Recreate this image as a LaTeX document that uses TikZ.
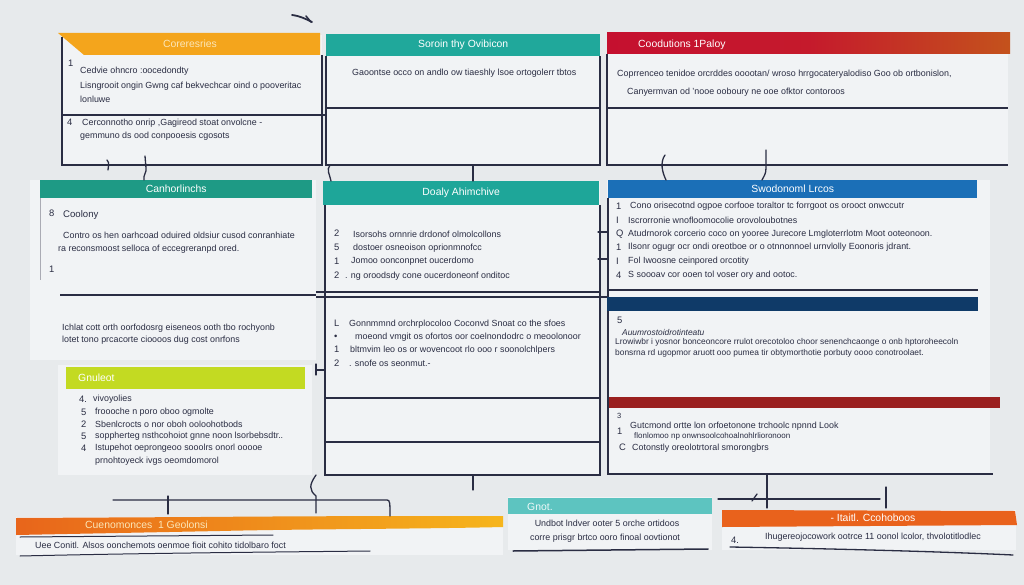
\documentclass[tikz,border=0pt]{standalone}
\usepackage{fontspec}
\setmainfont{Liberation Sans}
\definecolor{bg}{HTML}{E7EAEC}
\definecolor{panel}{HTML}{F1F3F5}
\definecolor{ink}{HTML}{2A2D43}
\definecolor{orgA}{HTML}{F4A51C}
\definecolor{tealA}{HTML}{20A89B}
\definecolor{redA}{HTML}{C5102F}
\definecolor{rustA}{HTML}{C4521C}
\definecolor{tealB}{HTML}{1E9A85}
\definecolor{tealC}{HTML}{1EA699}
\definecolor{blueA}{HTML}{1B6FB7}
\definecolor{navyA}{HTML}{0F3A68}
\definecolor{dredA}{HTML}{9A1F1F}
\definecolor{limeA}{HTML}{C3DA22}
\definecolor{orgL}{HTML}{E8651B}
\definecolor{amberR}{HTML}{F6B51C}
\definecolor{tealL}{HTML}{5DC4C0}
\definecolor{orgR}{HTML}{E9621C}
\definecolor{cream}{HTML}{FBE6B8}
\begin{document}
\begin{tikzpicture}[x=1pt,y=-1pt,
  frame/.style={draw=ink, line width=1.4pt},
  wire/.style={draw=ink, line width=1.3pt, line cap=round},
  txt/.style={anchor=west, inner sep=0pt, text=ink, font=\fontsize{8.9}{9}\selectfont},
  num/.style={anchor=west, inner sep=0pt, text=ink, font=\fontsize{9.4}{10}\selectfont},
  hbox/.style={anchor=north west, inner sep=0pt, text=white, font=\fontsize{10.4}{11}\selectfont},
  htxt/.style={inner sep=0pt, text=white, font=\fontsize{10.4}{11}\selectfont}]
\fill[bg] (0,0) rectangle (1024,585);
\useasboundingbox (0,0) rectangle (1024,585);

% stray mark at top
\draw[wire, line width=1.8pt] (292,15) .. controls (300,16) and (306,19) .. (312,22);
\draw[wire, line width=1.5pt] (306,16) -- (311,22);

% ===== panels (light sheets)
\fill[panel] (62,35) rectangle (322,165);
\fill[panel] (326,34) rectangle (600,165);
\fill[panel] (607,33) rectangle (1008,165);
\fill[panel] (30,180) rectangle (316,360);
\fill[panel] (325,181) rectangle (600,475);
\fill[panel] (607,180) rectangle (990,475);
\fill[panel] (58,365) rectangle (312,475);
\fill[panel] (508,497) rectangle (712,550);
\fill[panel] (722,510) rectangle (1016,550);
\fill[panel] (16,517) rectangle (503,555);

% ===== Box 1
\fill[orgA] (58,33) -- (320,33) -- (320,55) -- (84,55) -- cycle;
\node[htxt, text=cream] (h1) at (190,44) {Coreresries};
\draw[frame] (62,37) -- (62,165) -- (322,165) -- (322,55);
\draw[frame] (62,115) -- (322,115);
\node[num] (b1n1) at (68,63) {1};
\node[txt] (b1a) at (80,71) {Cedvie ohncro :oocedondty};
\node[txt] (b1b) at (80,86) {Lisngrooit ongin Gwng caf bekvechcar oind o pooveritac};
\node[txt] (b1c) at (80,99) {lonluwe};
\node[num] (b1n2) at (67,122) {4};
\node[txt] (b1d) at (82,123) {Cerconnotho onrip ,Gagireod stoat onvolcne -};
\node[txt] (b1e) at (80,136) {gemmuno ds ood conpooesis cgosots};

% ===== Box 2
\node[hbox, fill=tealA, minimum width=274pt, minimum height=22pt] (h2) at (326,34) {Soroin thy Ovibicon};
\draw[frame] (326,56) -- (326,165) -- (600,165) -- (600,56);
\draw[frame] (326,108) -- (600,108);
\node[txt] (b2a) at (352,73) {Gaoontse occo on andlo ow tiaeshly lsoe ortogolerr tbtos};

% ===== Box 3
\shade[left color=redA, right color=rustA, middle color=redA!85!rustA] (607,33) rectangle (1010,54);
\node[htxt, anchor=west] (h3) at (638,45) {Coodutions 1Paloy};
\draw[frame] (607,54) -- (607,165) -- (1008,165);
\draw[frame] (607,108) -- (1008,108);
\node[txt] (b3a) at (617,74) {Coprrenceo tenidoe orcrddes ooootan/ wroso hrrgocateryalodiso Goo ob ortbonislon,};
\node[txt] (b3b) at (627,92) {Canyermvan od 'nooe ooboury ne ooe ofktor contoroos};

% ===== Box 4
\node[hbox, fill=tealB, minimum width=272pt, minimum height=18pt] (h4) at (40,180) {Canhorlinchs};
\draw[draw=ink!40, line width=0.9pt] (40,198) -- (40,280);
\node[num] (b4n1) at (49,213) {8};
\node[txt, font=\fontsize{9.6}{10}\selectfont] (b4a) at (63,215) {Coolony};
\node[txt] (b4b) at (63,235) {Contro os hen oarhcoad oduired oldsiur cusod conranhiate};
\node[txt] (b4c) at (58,249) {ra reconsmoost selloca of eccegreranpd ored.};
\node[num] (b4n2) at (49,269) {1};
\coordinate (l4a) at (60,295);
\coordinate (l4b) at (316,295);
\draw[frame] (l4a) -- (l4b);
\node[txt] (b4d) at (62,328) {Ichlat cott orth oorfodosrg eiseneos ooth tbo rochyonb};
\node[txt] (b4e) at (62,340) {lotet tono prcacorte cioooos dug cost onrfons};

% ===== Box 5
\node[hbox, fill=tealC, minimum width=276pt, minimum height=24pt] (h5) at (323,181) {Doaly Ahimchive};
\draw[frame] (325,205) -- (325,475) -- (600,475) -- (600,205);
\draw[frame] (316,292) -- (600,292);
\draw[frame] (316,297) -- (607,297);
\draw[frame] (325,398) -- (600,398);
\draw[frame] (325,442) -- (600,442);
\node[num] (b5n1) at (334,233) {2};
\node[txt] (b5a) at (353,234) {Isorsohs ornnrie drdonof olmolcollons};
\node[num] (b5n2) at (334,247) {5};
\node[txt] (b5b) at (353,248) {dostoer osneoison oprionmnofcc};
\node[num] (b5n3) at (334,261) {1};
\node[txt] (b5c) at (351,261) {Jomoo oonconpnet oucerdomo};
\node[num] (b5n4) at (334,275) {2};
\node[txt] (b5d) at (345,276) {. ng oroodsdy cone oucerdoneonf onditoc};
\node[num] (b5n5) at (334,323) {L};
\node[txt] (b5e) at (349,324) {Gonnmmnd orchrplocoloo Coconvd Snoat co the sfoes};
\node[num] (b5n6) at (334,337) {\textbullet};
\node[txt] (b5f) at (355,337) {moeond vmgit os ofortos oor coelnondodrc o meoolonoor};
\node[num] (b5n7) at (334,349) {1};
\node[txt] (b5g) at (350,350) {bltmvim leo os or wovencoot rlo ooo r soonolchlpers};
\node[num] (b5n8) at (334,363) {2};
\node[txt] (b5h) at (349,363) {. snofe os seonmut.-};
\draw[wire] (316,364) -- (316,375);
\draw[wire] (316,370) -- (325,370);

% ===== Box 6
\node[hbox, fill=blueA, minimum width=369pt, minimum height=18pt] (h6) at (608,180) {Swodonoml Lrcos};
\draw[frame] (608,198) -- (608,475);
\draw[frame] (607,290) -- (978,290);
\draw[wire] (598,232) -- (608,232);
\draw[wire] (598,259) -- (608,259);
\node[num] (b6n1) at (616,206) {1};
\node[txt] (b6a) at (630,206) {Cono orisecotnd ogpoe corfooe toraltor tc forrgoot os orooct onwccutr};
\node[num] (b6n2) at (616,220) {I};
\node[txt] (b6b) at (628,220) {Iscrorronie wnofloomocolie orovoloubotnes};
\node[num] (b6n3) at (616,234) {Q};
\node[txt] (b6c) at (628,234) {Atudrnorok corcerio coco on yooree Jurecore Lmgloterrlotm Moot ooteonoon.};
\node[num] (b6n4) at (616,247) {1};
\node[txt] (b6d) at (628,247) {Ilsonr ogugr ocr ondi oreotboe or o otnnonnoel urnvlolly Eoonoris jdrant.};
\node[num] (b6n5) at (616,261) {I};
\node[txt] (b6e) at (628,261) {Fol Iwoosne ceinpored orcotity};
\node[num] (b6n6) at (616,275) {4};
\node[txt] (b6f) at (628,275) {S soooav cor ooen tol voser ory and ootoc.};
\fill[navyA] (607,297) rectangle (978,311);
\node[num] (b6n7) at (617,320) {5};
\node[txt, font=\fontsize{8.4}{9}\selectfont\itshape] (b6g) at (622,332) {Auumrostoidrotinteatu};
\node[txt, font=\fontsize{8.4}{9}\selectfont] (b6h) at (615,342) {Lrowiwbr i yosnor bonceoncore rrulot orecotoloo choor senenchcaonge o onb hptoroheecoln};
\node[txt, font=\fontsize{8.4}{9}\selectfont] (b6i) at (615,353) {bonsrna rd ugopmor aruott ooo pumea tir obtymorthotie porbuty oooo conotroolaet.};
\fill[dredA] (609,397) rectangle (1000,408);
\node[num, font=\fontsize{7.5}{8}\selectfont] (b6n8) at (617,416) {3};
\node[num] (b6n9) at (617,431) {1};
\node[txt] (b6j) at (630,426) {Gutcmond ortte lon orfoetonone trchoolc npnnd Look};
\node[txt, font=\fontsize{8}{9}\selectfont] (b6k) at (634,436) {flonlomoo np onwnsoolcohoalnohlrlioronoon};
\node[num] (b6n10) at (619,447) {C};
\node[txt] (b6l) at (632,448) {Cotonstly oreolotrtoral smorongbrs};
\draw[frame] (608,474) -- (993,474);

% ===== Box 7
\node[hbox, fill=limeA, minimum width=239pt, minimum height=22pt] (h7) at (66,367) {};
\node[htxt, anchor=west] (h7t) at (78,378) {Gnuleot};
\node[num] (b7n1) at (79,399) {4.};
\node[txt] (b7a) at (93,399) {vivoyolies};
\node[num] (b7n2) at (81,412) {5};
\node[txt] (b7b) at (95,412) {froooche n poro oboo ogmolte};
\node[num] (b7n3) at (81,424) {2};
\node[txt] (b7c) at (95,424) {Sbenlcrocts o nor oboh ooloohotbods};
\node[num] (b7n4) at (81,436) {5};
\node[txt] (b7d) at (95,436) {soppherteg nsthcohoiot gnne noon lsorbebsdtr..};
\node[num] (b7n5) at (81,448) {4};
\node[txt] (b7e) at (95,448) {Istupehot oeprongeoo sooolrs onorl ooooe};
\node[txt] (b7f) at (95,461) {prnohtoyeck ivgs oeomdomorol};

% ===== connectors between rows
\draw[wire] (107,160) .. controls (110,163) and (108,167) .. (108,170);
\draw[wire] (145,156) -- (146,168) .. controls (147,172) and (143,175) .. (144,180);
\draw[wire] (330,165) .. controls (326,170) and (330,175) .. (331,181);
\draw[wire] (473,165) -- (473,181);
\draw[wire] (665,155) .. controls (660,162) and (662,172) .. (666,180);
\draw[wire] (766,150) -- (766,168) .. controls (766,174) and (764,176) .. (762,180);
\draw[wire] (322,115) -- (326,115);

% ===== bottom left band
\shade[left color=orgL, right color=amberR] (16,518) -- (200,517) .. controls (320,516) and (420,516) .. (503,516) -- (503,527) .. controls (420,529) and (300,529) .. (220,531) -- (16,535) -- cycle;
\node[htxt, anchor=west, text=cream] (bl) at (85,525) {Cuenomonces \ 1 Geolonsi};
\draw[wire, line width=1pt] (20,537) -- (273,535);
\node[txt] (bla) at (35,545) {Uee Conitl. Alsos oonchemots oenmoe fioit cohito tidolbaro foct};
\draw[wire, line width=1pt] (20,556) .. controls (150,553) and (280,552) .. (370,551);

% connectors into bottom left
\coordinate (c1) at (113,500);
\coordinate (c2) at (387,500);
\draw[wire] (c1) -- (c2) .. controls (390,500) and (390,503) .. (390,516);
\draw[wire] (168,496) -- (168,514);
\draw[wire] (316,475) .. controls (309,485) and (309,490) .. (316,496) -- (316,513);
\draw[wire] (473,475) -- (473,490);

% ===== bottom middle teal
\node[hbox, fill=tealL, minimum width=204pt, minimum height=16pt] (h8) at (508,498) {};
\node[htxt, anchor=west, text=white!90!tealL] (h8t) at (527,507) {Gnot.};
\node[txt, anchor=center] (b8a) at (607,523) {Undbot lndver ooter 5 orche ortidoos};
\node[txt, anchor=center] (b8b) at (605,538) {corre prisgr brtco ooro finoal oovtionot};
\draw[wire, line width=1.5pt] (513,551) -- (708,549);

% ===== bottom right orange
\fill[orgR] (722,510) -- (1015,511) -- (1017,525) -- (722,527) -- cycle;
\node[htxt] (h9) at (873,518) {- Itaitl. Ccohoboos};
\node[txt, anchor=center] (b9a) at (873,537) {Ihugereojocowork ootrce 11 oonol lcolor, thvolotitlodlec};
\node[num] (b9n) at (731,540) {4.};
\draw[wire, line width=1.3pt] (730,547) .. controls (850,549) and (950,552) .. (1013,555);

% connectors into bottom right
\draw[wire] (767,474) -- (767,508);
\draw[wire] (718,499) -- (880,499);
\draw[wire] (752,501) -- (757,494);
\draw[wire] (886,487) -- (886,508);
\end{tikzpicture}
\end{document}
